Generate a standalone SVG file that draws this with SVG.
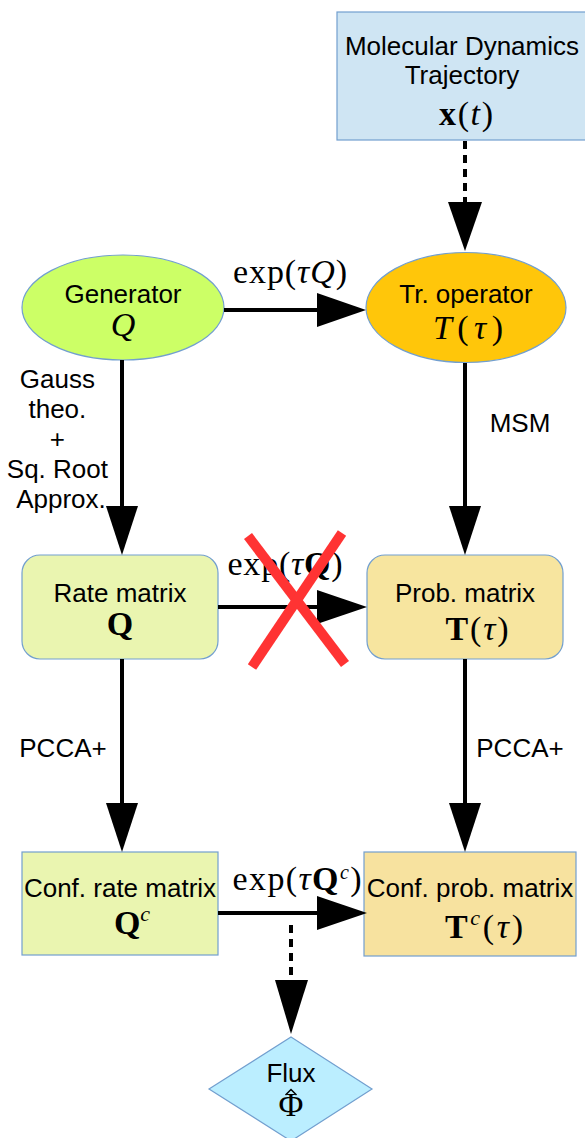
<svg xmlns="http://www.w3.org/2000/svg" width="585" height="1138" viewBox="0 0 585 1138">
<defs>
<style>
.lbl{font-family:"Liberation Sans",Arial,sans-serif;font-size:26px;fill:#000;text-anchor:middle}
.m{font-family:"Liberation Serif","Times New Roman",serif;font-size:34px;fill:#000;text-anchor:middle}
.it{font-style:italic}
.bf{font-weight:bold}
.node{stroke:#729fcf;stroke-width:1.2}
.edge{stroke:#000;stroke-width:4;fill:none}
.dash{stroke-dasharray:8,6}
.head{fill:#000}
.cross{stroke:#ff3333;stroke-width:10;stroke-linecap:butt}
</style>
</defs>
<rect width="585" height="1138" fill="#fff"/>

<g id="md">
<rect class="node" x="337" y="12" width="256" height="128" fill="#cfe5f3"/>
<text class="lbl" x="462" y="55">Molecular Dynamics</text>
<text class="lbl" x="462" y="84">Trajectory</text>
<text class="m" x="466" y="125" textLength="54" lengthAdjust="spacing"><tspan class="bf">x</tspan>(<tspan class="it">t</tspan>)</text>
</g>

<g id="generator">
<ellipse class="node" cx="123" cy="307.5" rx="101" ry="52.5" fill="#ccff66"/>
<text class="lbl" x="123" y="303">Generator</text>
<text class="m it" x="123" y="336" font-size="32">Q</text>
</g>

<g id="troperator">
<ellipse class="node" cx="466" cy="307.5" rx="100" ry="55" fill="#ffc60a"/>
<text class="lbl" x="466" y="303">Tr. operator</text>
<text class="m" x="468" y="339" textLength="70" lengthAdjust="spacing"><tspan class="it">T</tspan>(<tspan class="it">τ</tspan>)</text>
</g>

<g id="ratematrix">
<rect class="node" x="22" y="555" width="196" height="104" rx="18" fill="#eaf5b0"/>
<text class="lbl" x="120" y="602">Rate matrix</text>
<text class="m bf" x="120" y="635" font-size="31">Q</text>
</g>

<g id="probmatrix">
<rect class="node" x="367" y="555" width="196" height="104" rx="18" fill="#f7e59f"/>
<text class="lbl" x="465" y="602">Prob. matrix</text>
<text class="m" x="477" y="640" textLength="63" lengthAdjust="spacing"><tspan class="bf">T</tspan>(<tspan class="it">τ</tspan>)</text>
</g>

<g id="confrate">
<rect class="node" x="22" y="852" width="196" height="103" fill="#eaf5b0"/>
<text class="lbl" x="120" y="897">Conf. rate matrix</text>
<text class="m" x="132" y="934" font-size="32"><tspan class="bf">Q</tspan><tspan class="it" font-size="22" dy="-13">c</tspan></text>
</g>

<g id="confprob">
<rect class="node" x="364" y="852" width="212" height="104" fill="#f7e29f"/>
<text class="lbl" x="470" y="897">Conf. prob. matrix</text>
<text class="m" x="484" y="938" textLength="78" lengthAdjust="spacing"><tspan class="bf">T</tspan><tspan class="it" font-size="22" dy="-13">c</tspan><tspan dy="13">(</tspan><tspan class="it">τ</tspan>)</text>
</g>

<g id="flux">
<polygon class="node" points="291,1037 372,1089 291,1141 209,1089" fill="#bbeeff"/>
<text class="lbl" x="291" y="1082">Flux</text>
<text class="m" x="291" y="1116" font-size="30">Φ</text>
<polyline points="285.5,1095 291,1089.5 296.5,1095" fill="none" stroke="#000" stroke-width="1.5"/>
</g>

<g id="connectors">
<line class="edge dash" x1="465" y1="141" x2="465" y2="203"/>
<polygon class="head" points="448,202 482,202 465,251"/>

<line class="edge" x1="224" y1="310" x2="320" y2="310"/>
<polygon class="head" points="317,293 317,327 366,310"/>

<line class="edge" x1="122" y1="360" x2="122" y2="508"/>
<polygon class="head" points="106,506 138,506 122,555"/>

<line class="edge" x1="465" y1="363" x2="465" y2="508"/>
<polygon class="head" points="449,506 481,506 465,555"/>

<line class="edge" x1="218" y1="607" x2="320" y2="607"/>
<polygon class="head" points="317,590 317,624 367,607"/>

<line class="edge" x1="122" y1="659" x2="122" y2="805"/>
<polygon class="head" points="106,803 138,803 122,852"/>

<line class="edge" x1="465" y1="659" x2="465" y2="805"/>
<polygon class="head" points="449,803 481,803 465,852"/>

<line class="edge" x1="218" y1="913" x2="320" y2="913"/>
<polygon class="head" points="317,896 317,930 367,913"/>

<line class="edge dash" x1="291" y1="925" x2="291" y2="982"/>
<polygon class="head" points="275,980 308,980 291,1034"/>
</g>

<g id="labels">
<text class="m" x="290" y="283" font-size="29" textLength="114" lengthAdjust="spacing">exp(<tspan class="it">τ</tspan><tspan class="it">Q</tspan>)</text>
<text class="lbl">
<tspan x="61" y="388">Gauss</tspan>
<tspan x="61" y="418">theo.</tspan>
<tspan x="61" y="448">+</tspan>
<tspan x="61" y="478">Sq. Root</tspan>
<tspan x="61" y="508">Approx.</tspan>
</text>
<text class="lbl" x="520" y="432">MSM</text>
<text class="m" x="285" y="575" font-size="29" textLength="115" lengthAdjust="spacing">exp(<tspan class="it">τ</tspan><tspan class="bf">Q</tspan>)</text>
<text class="lbl" x="63" y="757">PCCA+</text>
<text class="lbl" x="520" y="757">PCCA+</text>
<text class="m" x="297" y="890" font-size="29" textLength="129" lengthAdjust="spacing">exp(<tspan class="it">τ</tspan><tspan class="bf">Q</tspan><tspan class="it" font-size="20" dy="-11">c</tspan><tspan dy="11">)</tspan></text>
</g>

<g id="cross">
<line class="cross" x1="248" y1="536" x2="345" y2="664"/>
<line class="cross" x1="342" y1="533" x2="252" y2="667"/>
</g>
</svg>
